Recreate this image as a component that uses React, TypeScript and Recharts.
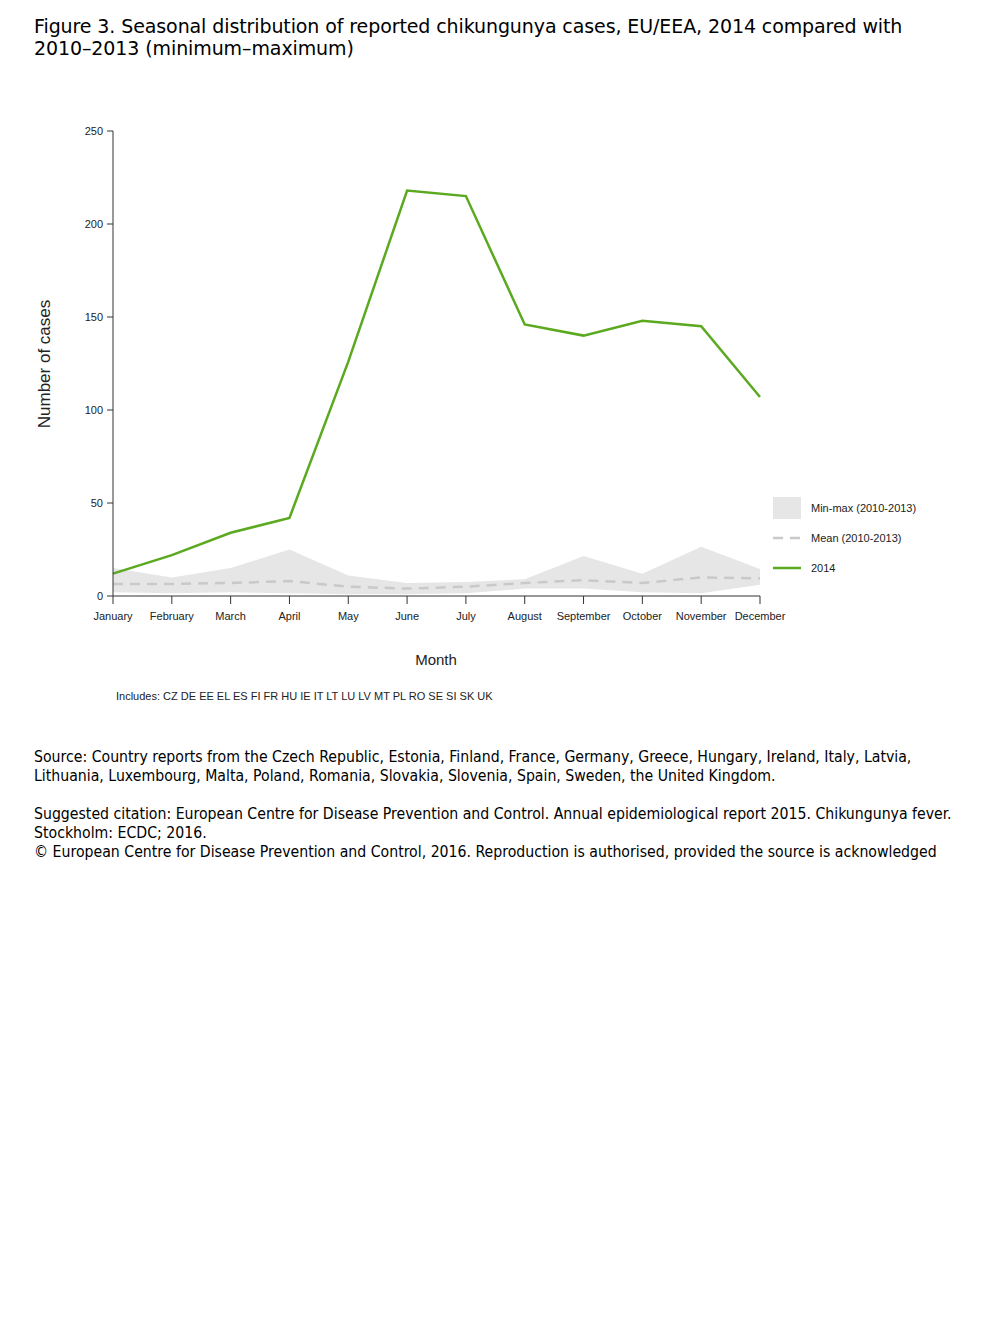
import {
    ComposedChart,
    Area,
    Line,
    XAxis,
    YAxis,
} from 'recharts';

const months = [
    'January', 'February', 'March', 'April', 'May', 'June',
    'July', 'August', 'September', 'October', 'November', 'December',
];
const cases2014 = [12, 22, 34, 42, 126, 218, 215, 146, 140, 148, 145, 107];
const minCases = [2, 1.5, 2, 1.5, 1, 1, 1.5, 4, 4, 2, 1.5, 6];
const maxCases = [15, 10, 15, 25, 11, 7, 7.5, 9, 21.5, 12, 26.5, 14.5];
const meanCases = [6.5, 6.5, 7, 8, 5, 4, 5, 7, 8.5, 7, 10, 9.5];
const yTicks = [0, 50, 100, 150, 200, 250];

const chartData = months.map((m, i) => ({
    month: m,
    range: [minCases[i], maxCases[i]],
    mean: meanCases[i],
    y2014: cases2014[i],
}));

const green = '#5aa91f';
const bandFill = '#e6e6e6';
const meanStroke = '#c9c9c9';
const axisColor = '#333333';
const chartFont = '"Liberation Sans", Arial, sans-serif';
const titleFont = '"DejaVu Sans", Verdana, sans-serif';
const textFont = '"DejaVu Sans Condensed", "DejaVu Sans", Verdana, sans-serif';

const legendItems = [
    { label: 'Min-max (2010-2013)', kind: 'band' },
    { label: 'Mean (2010-2013)', kind: 'mean' },
    { label: '2014', kind: 'line' },
];

const LegendBox = () => (
    <div style={{ position: 'absolute', left: 765, top: 485, fontFamily: chartFont, fontSize: 11, color: '#222' }}>
        {legendItems.map((item) => (
            <div key={item.label} style={{ display: 'flex', alignItems: 'center', height: 30 }}>
                <svg width={28} height={24} style={{ marginRight: 10 }}>
                    {item.kind === 'band' && <rect x={0} y={1} width={28} height={22} fill={bandFill} />}
                    {item.kind === 'mean' && (
                        <line x1={0} y1={12} x2={28} y2={12} stroke={meanStroke} strokeWidth={2.5} strokeDasharray="10 7" />
                    )}
                    {item.kind === 'line' && <line x1={0} y1={12} x2={28} y2={12} stroke={green} strokeWidth={2.5} />}
                </svg>
                <span>{item.label}</span>
            </div>
        ))}
    </div>
);

const App = () => {
    return (
        <div style={{ position: 'relative', width: 992, height: 1328 }}>
            <div style={{ position: 'absolute', left: 26, top: 7, fontFamily: titleFont, fontSize: 19, lineHeight: '22px', letterSpacing: -0.1, color: '#000' }}>
                Figure 3. Seasonal distribution of reported chikungunya cases, EU/EEA, 2014 compared with
                <br />
                2010&#8211;2013 (minimum&#8211;maximum)
            </div>

            <div style={{ position: 'absolute', left: 0, top: 0 }}>
                <ComposedChart
                    width={992}
                    height={720}
                    data={chartData}
                    margin={{ top: 123, right: 240, bottom: 102, left: 45 }}
                >
                    <XAxis
                        dataKey="month"
                        interval={0}
                        height={30}
                        axisLine={{ stroke: axisColor }}
                        tickLine={{ stroke: axisColor }}
                        tickSize={8}
                        tickMargin={8}
                        tick={{ fill: '#222', fontSize: 11, fontFamily: chartFont }}
                    />
                    <YAxis
                        domain={[0, 250]}
                        ticks={yTicks}
                        width={60}
                        axisLine={{ stroke: axisColor }}
                        tickLine={{ stroke: axisColor }}
                        tickSize={6}
                        tickMargin={4}
                        tick={{ fill: '#222', fontSize: 11, fontFamily: chartFont }}
                    />
                    <Area
                        type="linear"
                        dataKey="range"
                        stroke="none"
                        fill={bandFill}
                        fillOpacity={1}
                        isAnimationActive={false}
                    />
                    <Line
                        type="linear"
                        dataKey="mean"
                        stroke={meanStroke}
                        strokeWidth={2.5}
                        strokeDasharray="10 7"
                        dot={false}
                        isAnimationActive={false}
                    />
                    <Line
                        type="linear"
                        dataKey="y2014"
                        stroke={green}
                        strokeWidth={2.5}
                        dot={false}
                        isAnimationActive={false}
                    />
                </ComposedChart>
            </div>

            <div
                style={{
                    position: 'absolute',
                    left: 37,
                    top: 356,
                    transform: 'translate(-50%, -50%) rotate(-90deg)',
                    fontFamily: chartFont,
                    fontSize: 17,
                    whiteSpace: 'nowrap',
                    color: '#222',
                }}
            >
                Number of cases
            </div>
            <div
                style={{
                    position: 'absolute',
                    left: 428,
                    top: 651,
                    transform: 'translate(-50%, -50%)',
                    fontFamily: chartFont,
                    fontSize: 15,
                    color: '#222',
                }}
            >
                Month
            </div>
            <div style={{ position: 'absolute', left: 108, top: 682, fontFamily: chartFont, fontSize: 11, color: '#222' }}>
                Includes: CZ DE EE EL ES FI FR HU IE IT LT LU LV MT PL RO SE SI SK UK
            </div>

            <LegendBox />

            <div style={{ position: 'absolute', left: 26, top: 739, fontFamily: textFont, fontSize: 15.7, lineHeight: '19px', color: '#000' }}>
                Source: Country reports from the Czech Republic, Estonia, Finland, France, Germany, Greece, Hungary, Ireland, Italy, Latvia,
                <br />
                Lithuania, Luxembourg, Malta, Poland, Romania, Slovakia, Slovenia, Spain, Sweden, the United Kingdom.
                <br />
                <br />
                Suggested citation: European Centre for Disease Prevention and Control. Annual epidemiological report 2015. Chikungunya fever.
                <br />
                Stockholm: ECDC; 2016.
                <br />
                &#169; European Centre for Disease Prevention and Control, 2016. Reproduction is authorised, provided the source is acknowledged
            </div>
        </div>
    );
};

export default App;
